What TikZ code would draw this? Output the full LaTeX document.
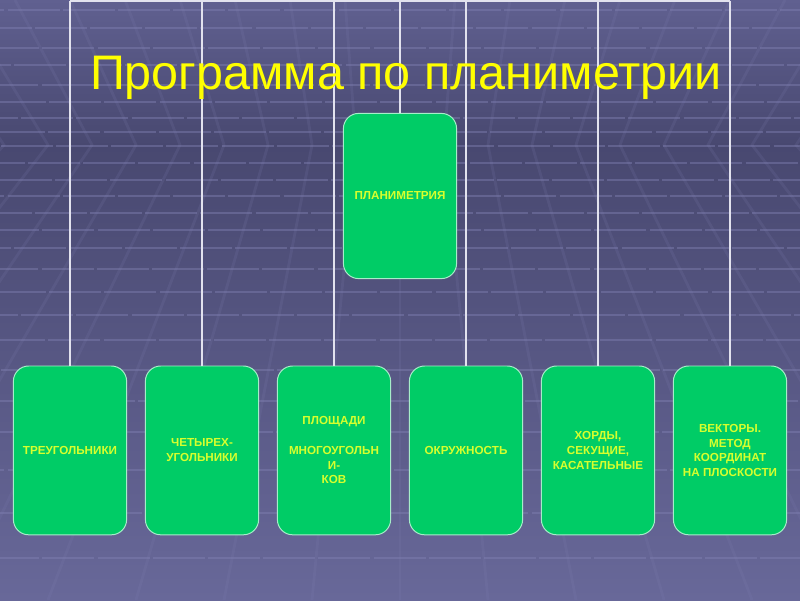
\documentclass[tikz,border=0pt]{standalone}
\usepackage{fontspec}
\setmainfont{Liberation Sans}
\definecolor{slatetop}{RGB}{96,96,144}
\definecolor{slatemid}{RGB}{72,72,112}
\definecolor{slatelow}{RGB}{104,104,153}
\definecolor{rungcol}{RGB}{128,128,178}
\definecolor{leaf}{RGB}{0,204,102}
\definecolor{lemon}{RGB}{215,255,45}
\definecolor{sun}{RGB}{255,255,0}
\definecolor{wire}{RGB}{226,226,238}

\begin{document}
\begin{tikzpicture}[
    topic/.style={rectangle, rounded corners=0.38cm, draw=leaf!35!white, line width=0.7pt, fill=leaf, minimum width=2.83cm, minimum height=4.22cm, align=center, text=lemon, font=\bfseries\fontsize{8.3}{10.5}\selectfont},
    conn/.style={draw=wire, line width=1.3pt},
    slant/.style={draw=rungcol, line width=0.07cm, opacity=0.16},
    rung/.style={draw=rungcol, line width=0.05cm, opacity=0.45, dash pattern=on 1.3cm off 0.08cm}]

    % Background floor
    \useasboundingbox (0,0) rectangle (20,15);
    \shade[top color=slatemid, bottom color=slatelow] (0,0) rectangle (20,11.4);
    \shade[top color=slatetop, bottom color=slatemid] (0,11.37) rectangle (20,15);
    \begin{scope}
        \clip (0,0) rectangle (20,15);
        \foreach \k in {-9,...,9}
            \draw[slant] ({10+1.375*\k},15) -- ({10+1.1*\k},11.375) -- ({10+2.2*\k},0);
        \foreach \p [count=\n] in {10,28,48,65,85,102,118,132,146,163,180,196,213,230,248,269,292,315,340,370,401,432,470,513,558}{
            \pgfmathsetmacro\ph{mod(\n*7,11)*0.17}
            \draw[rung, dash phase=\ph cm] (0,{15-\p/40}) -- (20,{15-\p/40});
        }
    \end{scope}

    % Root
    \node[topic, minimum height=4.13cm] (plan) at (10,10.1) {ПЛАНИМЕТРИЯ};

    % Topics
    \node[topic] (tri) at (1.75,3.74) {ТРЕУГОЛЬНИКИ};
    \node[topic] (quad) at (5.05,3.74) {ЧЕТЫРЕХ-\\УГОЛЬНИКИ};
    \node[topic] (area) at (8.35,3.74) {ПЛОЩАДИ\\[10.5pt]МНОГОУГОЛЬН\\И-\\КОВ};
    \node[topic] (circ) at (11.65,3.74) {ОКРУЖНОСТЬ};
    \node[topic] (chord) at (14.95,3.74) {ХОРДЫ,\\СЕКУЩИЕ,\\КАСАТЕЛЬНЫЕ};
    \node[topic] (vect) at (18.25,3.74) {ВЕКТОРЫ.\\МЕТОД\\КООРДИНАТ\\НА ПЛОСКОСТИ};

    % Connectors
    \coordinate (bus) at (10,14.97);
    \draw[conn] (tri.north |- bus) -- (vect.north |- bus);
    \draw[conn] (plan.north) -- (plan.north |- bus);
    \draw[conn] (tri.north) -- (tri.north |- bus);
    \draw[conn] (quad.north) -- (quad.north |- bus);
    \draw[conn] (area.north) -- (area.north |- bus);
    \draw[conn] (circ.north) -- (circ.north |- bus);
    \draw[conn] (chord.north) -- (chord.north |- bus);
    \draw[conn] (vect.north) -- (vect.north |- bus);

    % Title
    \node[font=\fontsize{34.5}{40}\selectfont, text=sun, anchor=base, inner sep=0pt] (title) at (10.15,12.75) {Программа по планиметрии};

\end{tikzpicture}
\end{document}
